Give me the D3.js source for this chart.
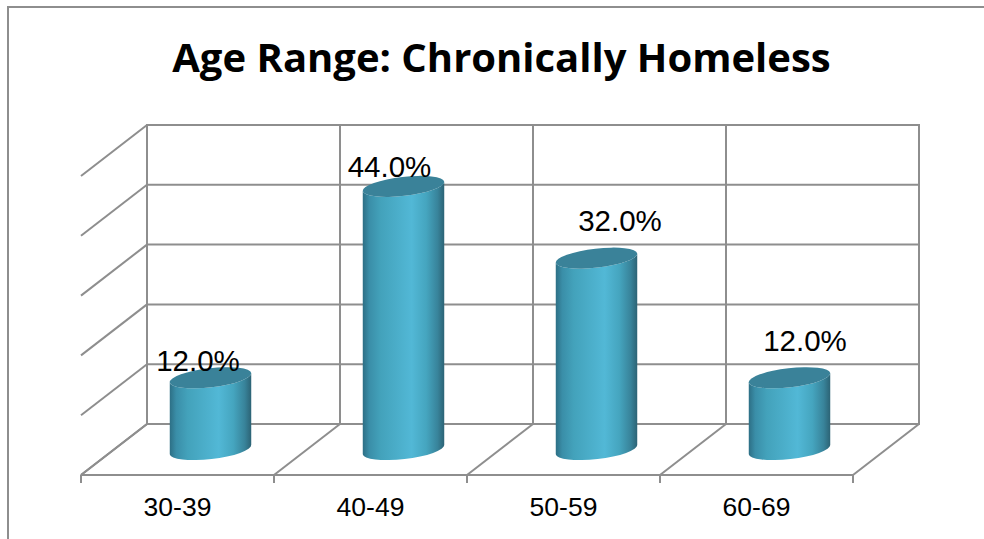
<!DOCTYPE html>
<html>
<head>
<meta charset="utf-8">
<style>
  html, body { margin: 0; padding: 0; background: #fff; }
  svg { display: block; }
</style>
<script src="https://cdnjs.cloudflare.com/ajax/libs/d3/7.8.5/d3.min.js"></script>
</head>
<body>
<script>
// Chart content
const chartTitle = "Age Range: Chronically Homeless";
const categories = ["30-39", "40-49", "50-59", "60-69"];
const shares = [12, 44, 32, 12];
const gridValues = [0, 10, 20, 30, 40, 50];

// Data labels sit where they were placed by hand, relative to each cylinder top
const labelShiftX = [-12.5, -14, 23.5, 15.5];
const labelShiftY = [-7, -9, -27.5, -27];

const width = 984, height = 539;
const svg = d3.select("body").append("svg").attr("width", width).attr("height", height);

// Front edge of the floor and the oblique offset to the back wall
const frontLeft = 81, frontRight = 853, frontY = 475;
const depthX = 66, depthY = -51;

const x = d3.scaleBand().domain(categories).range([frontLeft, frontRight]).paddingInner(0).paddingOuter(0);
const y = d3.scaleLinear().domain([0, 50]).range([frontY + depthY, frontY + depthY - 299]);

const gridColor = "#8e8e8e";
const grid = svg.append("g").attr("stroke", gridColor).attr("stroke-width", 2).attr("fill", "none");

// Outer frame
svg.append("path")
  .attr("d", `M8,539V7H984`)
  .attr("fill", "none").attr("stroke", "#8e8e8e").attr("stroke-width", 2);

// Back wall horizontals with their side wall returns
gridValues.forEach(v => {
  grid.append("line")
    .attr("x1", frontLeft + depthX).attr("x2", frontRight + depthX - 1)
    .attr("y1", y(v)).attr("y2", y(v));
  grid.append("line")
    .attr("x1", frontLeft + depthX).attr("y1", y(v))
    .attr("x2", frontLeft).attr("y2", y(v) - depthY);
});

// Vertical dividers on the back wall and diagonals across the floor
const edges = categories.map(c => x(c)).concat([frontRight]);
edges.forEach(e => {
  grid.append("line")
    .attr("x1", e + depthX).attr("x2", e + depthX)
    .attr("y1", y(50) - 1).attr("y2", y(0) + 1);
  grid.append("line")
    .attr("x1", e + depthX).attr("y1", y(0))
    .attr("x2", e).attr("y2", frontY);
  grid.append("line")
    .attr("x1", e).attr("x2", e)
    .attr("y1", frontY).attr("y2", frontY + 8);
});
grid.append("line")
  .attr("x1", frontLeft).attr("x2", frontRight)
  .attr("y1", frontY).attr("y2", frontY);

// Cylinder shading
const defs = svg.append("defs");
const shade = defs.append("linearGradient").attr("id", "cylinderSide");
[["0%", "#2d6f85"], ["8%", "#3a8ea8"], ["22%", "#43a2bb"], ["60%", "#52b8d6"], ["78%", "#45a5bf"], ["92%", "#38839a"], ["100%", "#2c6375"]]
  .forEach(([o, c]) => shade.append("stop").attr("offset", o).attr("stop-color", c));

const rx = 41, ry = 9.5, tilt = -6.5;
const ex = rx * Math.cos(tilt * Math.PI / 180);
const ey = rx * Math.sin(tilt * Math.PI / 180);

const bars = svg.append("g").selectAll("g").data(shares).join("g");
const cx = (d, i) => x(categories[i]) + x.bandwidth() / 2 + depthX / 2;
const baseY = frontY + depthY / 2;
const topY = d => baseY - (y(0) - y(d));

bars.append("path")
  .attr("fill", "url(#cylinderSide)")
  .attr("d", (d, i) => {
    const c = cx(d, i), t = topY(d);
    return `M${c - ex},${t - ey}` +
      `L${c - ex},${baseY - ey}` +
      `A${rx},${ry} ${tilt} 0 0 ${c + ex},${baseY + ey}` +
      `L${c + ex},${t + ey}` +
      `A${rx},${ry} ${tilt} 0 1 ${c - ex},${t - ey}Z`;
  });

bars.append("ellipse")
  .attr("rx", rx).attr("ry", ry)
  .attr("fill", "#3a8299")
  .attr("transform", (d, i) => `translate(${cx(d, i)},${topY(d)}) rotate(${tilt})`);

// Data labels
svg.append("g").selectAll("text").data(shares).join("text")
  .attr("x", (d, i) => cx(d, i) + labelShiftX[i])
  .attr("y", (d, i) => topY(d) + labelShiftY[i])
  .attr("text-anchor", "middle")
  .attr("font-family", "'Liberation Sans', Arial, sans-serif")
  .attr("font-size", 29.5)
  .attr("fill", "#000")
  .text(d => d.toFixed(1) + "%");

// Category labels
svg.append("g").selectAll("text").data(categories).join("text")
  .attr("x", d => x(d) + x.bandwidth() / 2)
  .attr("y", 516)
  .attr("text-anchor", "middle")
  .attr("font-family", "'Liberation Sans', Arial, sans-serif")
  .attr("font-size", 26.5)
  .attr("fill", "#000")
  .text(d => d);

// Title
svg.append("text")
  .attr("x", 501.5).attr("y", 72)
  .attr("text-anchor", "middle")
  .attr("font-family", "'Open Sans', Lato, sans-serif")
  .attr("font-weight", 700)
  .attr("font-size", 40)
  .attr("fill", "#000")
  .text(chartTitle);
</script>
</body>
</html>
